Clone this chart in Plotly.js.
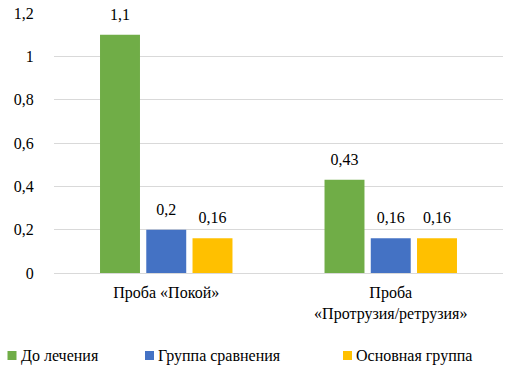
<!DOCTYPE html>
<html>
<head>
<meta charset="utf-8">
<script src="https://cdn.plot.ly/plotly-3.0.1.min.js"></script>
</head>
<body style="margin:0">
<div id="chart"></div>
<script>
// ---- data ----
var categories = ["Проба «Покой»", "Проба<br>«Протрузия/ретрузия»"];
var seriesNames = ["До лечения", "Группа сравнения", "Основная группа"];
var doLecheniya = [1.1, 0.43];
var gruppaSravneniya = [0.2, 0.16];
var osnovnayaGruppa = [0.16, 0.16];
var yTicks = [0, 0.2, 0.4, 0.6, 0.8, 1, 1.2];

// ---- styles ----
var colors = ["#70AD47", "#4472C4", "#FFC000"];
var FONT = "Liberation Serif, serif";
var M = {l: 54, r: 9, t: 13, b: 98};
var W = 512 - M.l - M.r, H = 371 - M.t - M.b;
function px2x(px){ return (px - M.l) / W; }
function py2y(py){ return (371 - M.b - py) / H; }
function fmt(v){ return String(v).replace('.', ','); }

var allSeries = [doLecheniya, gruppaSravneniya, osnovnayaGruppa];
var traces = [];
allSeries.forEach(function(vals, i){
  traces.push({
    type: 'bar', x: categories, y: vals, name: seriesNames[i],
    marker: {color: colors[i]}, hoverinfo: 'skip', showlegend: false,
    offsetgroup: 'g' + i
  });
});
allSeries.forEach(function(vals, i){
  traces.push({
    type: 'scatter', mode: 'markers+text', x: categories, y: vals,
    marker: {size: 16, opacity: 0, color: colors[i]},
    text: vals.map(fmt), textposition: 'top center',
    textfont: {family: FONT, size: 16, color: '#000'},
    cliponaxis: false, hoverinfo: 'skip', showlegend: false,
    offsetgroup: 'g' + i
  });
});

// manual legend
var shapes = [], annotations = [];
var legSq = [7.5, 145, 343];
legSq.forEach(function(sx, i){
  shapes.push({type: 'rect', xref: 'paper', yref: 'paper',
    x0: px2x(sx), x1: px2x(sx + 9), y0: py2y(360), y1: py2y(351),
    fillcolor: colors[i], line: {width: 0}});
  annotations.push({xref: 'paper', yref: 'paper', x: px2x(sx + 11), y: py2y(355.5),
    xanchor: 'left', yanchor: 'middle', text: seriesNames[i], showarrow: false,
    font: {family: FONT, size: 16, color: '#000'}});
});

var layout = {
  width: 512, height: 371, margin: M,
  paper_bgcolor: '#fff', plot_bgcolor: '#fff',
  font: {family: FONT, size: 16, color: '#000'},
  barmode: 'group', bargap: 0.382, bargroupgap: 0.136,
  scattermode: 'group', scattergap: 0.382,
  showlegend: false,
  xaxis: {type: 'category', showgrid: false, showline: false, zeroline: false,
    ticks: '', ticklabelstandoff: 8, tickfont: {family: FONT, size: 16, color: '#000'}},
  yaxis: {range: [0, 1.2], tickvals: yTicks, ticktext: yTicks.map(fmt),
    showgrid: true, gridcolor: '#D9D9D9', gridwidth: 1,
    zeroline: true, zerolinecolor: '#D9D9D9', zerolinewidth: 1,
    showline: false, ticks: 'outside', ticklen: 16, tickcolor: 'rgba(0,0,0,0)',
    tickfont: {family: FONT, size: 16, color: '#000'}},
  shapes: shapes, annotations: annotations
};

Plotly.newPlot('chart', traces, layout, {displayModeBar: false});
</script>
</body>
</html>
